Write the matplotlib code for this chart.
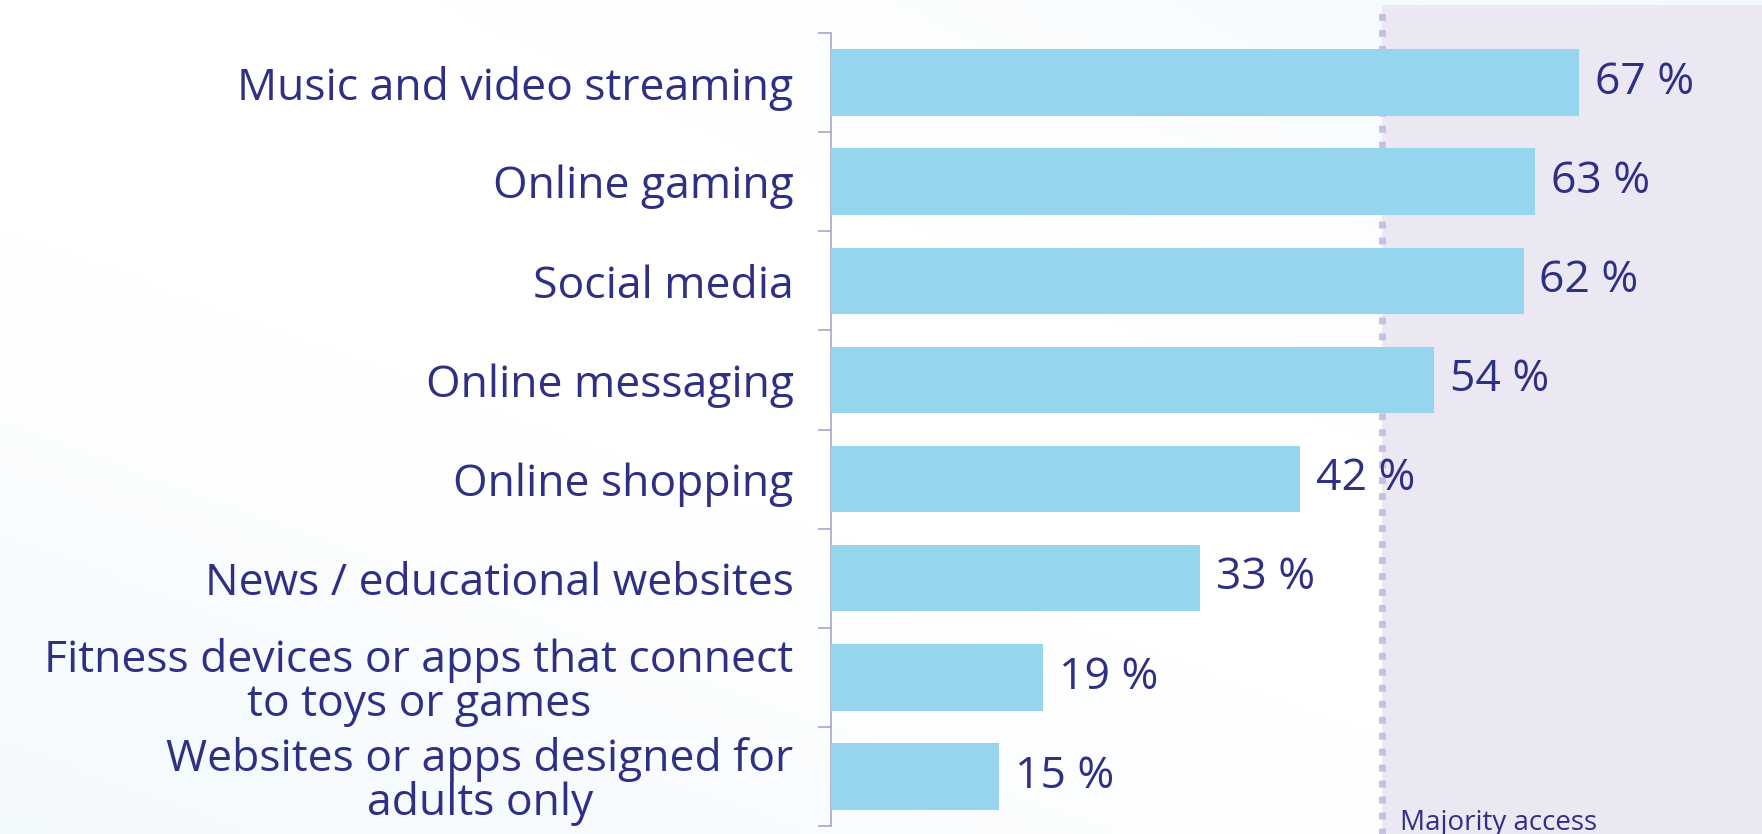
import matplotlib.pyplot as plt
import matplotlib.transforms as mtransforms
import numpy as np

# Share of respondents per online activity
activities = [
    "Music and video streaming",
    "Online gaming",
    "Social media",
    "Online messaging",
    "Online shopping",
    "News / educational websites",
    "Fitness devices or apps that connect\nto toys or games",
    "Websites or apps designed for\nadults only",
]
shares = [67, 63, 62, 54, 42, 33, 19, 15]
majority_line = 49.3
majority_label = "Majority access"

text_color = "#2e3083"
bar_color = "#97d4ed"
axis_color = "#a09fc4"
shade_color = "#ebe8f4"
dot_color = "#c6c1e1"

plt.rcParams["font.family"] = ["Open Sans", "DejaVu Sans"]

fig = plt.figure(figsize=(17.62, 8.34), dpi=100)

# soft background wash: white centre, pale blue towards the corners
bg = fig.add_axes([0, 0, 1, 1], zorder=-10)
u, v = np.meshgrid(np.linspace(0, 1, 400), np.linspace(0, 1, 200))
t = np.clip(0.9 * v + 0.7 * (1 - u) - 0.95, 0, 1) + np.clip(u + (1 - v) - 1.25, 0, 1) * 0.8
t = np.clip(t, 0, 1)
white = np.array([1.0, 1.0, 1.0])
tint = np.array([236, 246, 252]) / 255
img = white[None, None, :] * (1 - t[..., None]) + tint[None, None, :] * t[..., None]
bg.imshow(img, aspect="auto", extent=[0, 1, 0, 1])
bg.axis("off")

ax = fig.add_axes([831 / 1762, 8 / 834, 931 / 1762, 793 / 834])
ax.set_facecolor("none")

y = np.arange(len(activities))
ax.barh(y, shares, height=0.67, color=bar_color, zorder=3)
ax.set_xlim(0, 83.35)
ax.set_ylim(len(activities) - 0.5, -0.5)

# shaded "majority" zone and dotted threshold line
ax.axvspan(majority_line, 100, ymin=-0.02, ymax=1.035, color=shade_color,
           lw=0, clip_on=False, zorder=1)
trans = mtransforms.blended_transform_factory(ax.transData, ax.transAxes)
ax.plot([majority_line, majority_line], [-0.02, 1.035], transform=trans,
        color=dot_color, lw=5.0, dashes=(1, 1.3), dash_capstyle="butt",
        clip_on=False, zorder=2)

for yi, val in zip(y, shares):
    ax.annotate(f"{val} %", xy=(val, yi), xytext=(11.5, 0),
                textcoords="offset points", va="center", ha="left",
                fontsize=32, color=text_color, zorder=5)

ftrans = mtransforms.blended_transform_factory(ax.transData, fig.transFigure)
ax.annotate(majority_label, xy=(majority_line, 4 / 834), xycoords=ftrans,
            xytext=(13, 0), textcoords="offset points", va="baseline",
            ha="left", fontsize=20, color=text_color, annotation_clip=False)

# category labels at bar centres, ticks at the slot boundaries
ax.set_yticks(y)
ax.set_yticklabels(activities, fontsize=32, color=text_color, linespacing=0.97)
for lab in ax.get_yticklabels():
    lab.set_multialignment("center")
ax.set_yticks(np.arange(len(activities) + 1) - 0.5, minor=True)
ax.tick_params(axis="y", which="major", length=0, pad=27)
ax.tick_params(axis="y", which="minor", length=9.4, width=1.1, color=axis_color)
ax.set_xticks([])

for side in ["top", "right", "bottom"]:
    ax.spines[side].set_visible(False)
ax.spines["left"].set_color(axis_color)
ax.spines["left"].set_linewidth(1.1)

fig.savefig("out.png", dpi=100)
